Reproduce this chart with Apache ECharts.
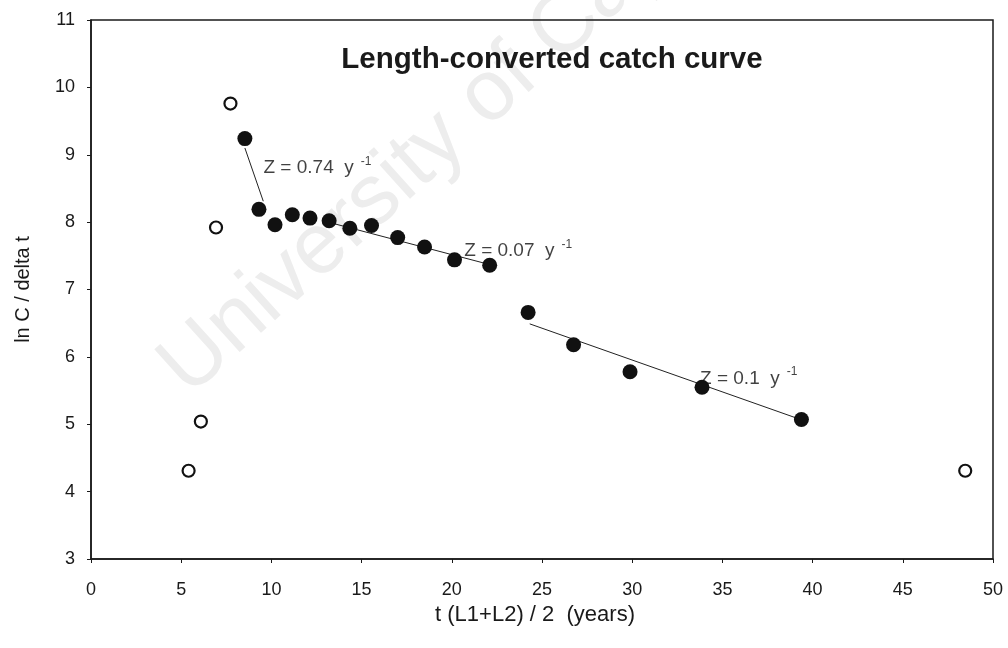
<!DOCTYPE html>
<html>
<head>
<meta charset="utf-8">
<script src="https://cdn.jsdelivr.net/npm/echarts@6/dist/echarts.min.js"></script>
<style>html,body{margin:0;padding:0;background:#fff}#c{width:1008px;height:648px}</style>
</head>
<body>
<div id="c"></div>
<script>
// Open circles (excluded points)
var openX = [5.41, 6.09, 6.93, 7.73, 48.46];
var openY = [4.31, 5.04, 7.92, 9.76, 4.31];
// Filled circles (points used in regressions)
var filledX = [8.53, 9.31, 10.2, 11.16, 12.14, 13.2, 14.35, 15.55, 17.0, 18.49, 20.15, 22.1, 24.23, 26.75, 29.88, 33.87, 39.38];
var filledY = [9.24, 8.19, 7.96, 8.11, 8.06, 8.02, 7.91, 7.95, 7.77, 7.63, 7.44, 7.36, 6.66, 6.18, 5.78, 5.55, 5.07];
// Regression line segments
var fit1 = [[8.53, 9.10], [9.55, 8.31]];
var fit2 = [[13.0, 8.01], [22.1, 7.37]];
var fit3 = [[24.32, 6.49], [39.34, 5.07]];
// Annotations
var noteX = [9.56, 20.69, 33.76];
var noteY = [8.83, 7.59, 5.70];
var noteText = ['Z = 0.74  y', 'Z = 0.07  y', 'Z = 0.1  y'];
var xTicks = {min: 0, max: 50, interval: 5};
var yTicks = {min: 3, max: 11, interval: 1};

var font = "'Liberation Sans', Arial, sans-serif";
function zip(a, b) { return a.map(function (v, i) { return [v, b[i]]; }); }

var chart = echarts.init(document.getElementById('c'), null, {renderer: 'canvas'});
var lineStyle = {color: '#222', width: 1, opacity: 1};
function fitSeries(d) {
  return {type: 'line', data: d, symbol: 'none', lineStyle: lineStyle, z: 2, silent: true, animation: false};
}
chart.setOption({
  animation: false,
  backgroundColor: '#fff',
  textStyle: {fontFamily: font},
  title: {
    text: 'Length-converted catch curve',
    left: 547, top: 40, textAlign: 'center',
    textStyle: {fontFamily: font, fontSize: 29.5, fontWeight: 'bold', color: '#1a1a1a'}
  },
  graphic: [{
    type: 'text', z: -10, silent: true,
    x: 202, y: 412,
    rotation: 42 * Math.PI / 180,
    style: {text: 'University of Cape Town', font: '86px ' + font, fill: '#ededed', verticalAlign: 'bottom', align: 'left'}
  }],
  grid: {left: 91, right: 15, top: 20, bottom: 89, show: true, borderColor: '#1a1a1a', borderWidth: 1.5, backgroundColor: 'transparent'},
  xAxis: {
    type: 'value', min: xTicks.min, max: xTicks.max, interval: xTicks.interval,
    name: 't (L1+L2) / 2  (years)', nameLocation: 'middle', nameGap: 28,
    nameTextStyle: {fontFamily: font, fontSize: 22, color: '#1a1a1a', padding: [0, 14, 0, 0]},
    axisLine: {show: true, lineStyle: {color: '#1a1a1a', width: 1.5}},
    axisTick: {show: true, length: 4, lineStyle: {color: '#1a1a1a'}},
    axisLabel: {fontFamily: font, fontSize: 18, color: '#1a1a1a', margin: 22},
    splitLine: {show: false}
  },
  yAxis: {
    type: 'value', min: yTicks.min, max: yTicks.max, interval: yTicks.interval,
    name: 'ln C / delta t', nameLocation: 'middle', nameGap: 58,
    nameTextStyle: {fontFamily: font, fontSize: 20, color: '#1a1a1a'},
    axisLine: {show: true, lineStyle: {color: '#1a1a1a', width: 1.5}},
    axisTick: {show: true, length: 4, lineStyle: {color: '#1a1a1a'}},
    axisLabel: {fontFamily: font, fontSize: 18, color: '#1a1a1a', margin: 16},
    splitLine: {show: false}
  },
  series: [
    fitSeries(fit1), fitSeries(fit2), fitSeries(fit3),
    {
      type: 'scatter', data: zip(openX, openY), symbol: 'circle', symbolSize: 12, z: 3,
      itemStyle: {color: '#fff', borderColor: '#111', borderWidth: 2.2, opacity: 1}
    },
    {
      type: 'scatter', data: zip(filledX, filledY), symbol: 'circle', symbolSize: 15, z: 4,
      itemStyle: {color: '#111', opacity: 1}
    },
    {
      type: 'scatter', symbolSize: 0, z: 5, silent: true,
      data: noteX.map(function (x, i) { return {value: [x, noteY[i]], name: noteText[i]}; }),
      label: {
        show: true, position: [0, 0], align: 'left', verticalAlign: 'middle',
        formatter: function (p) { return '{a|' + p.name + '}{s|-1}'; },
        rich: {
          a: {fontFamily: font, fontSize: 19, color: '#111', lineHeight: 22, verticalAlign: 'bottom'},
          s: {fontFamily: font, fontSize: 12, color: '#111', lineHeight: 22, verticalAlign: 'top', padding: [0, 0, 0, 7]}
        }
      }
    }
  ]
});
</script>
</body>
</html>
